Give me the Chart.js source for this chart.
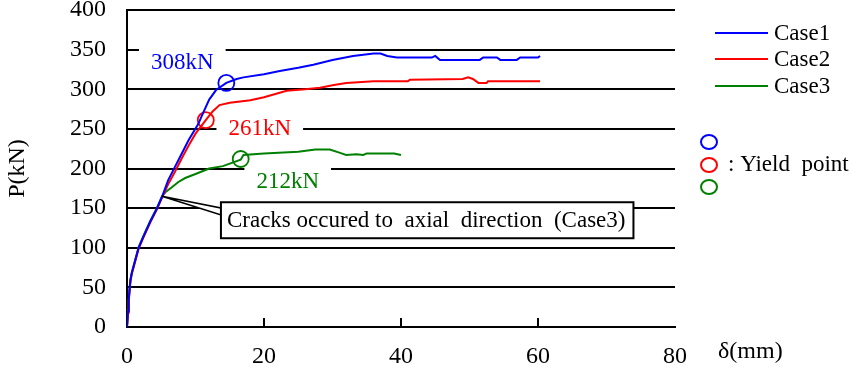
<!DOCTYPE html>
<html>
<head>
<meta charset="utf-8">
<script src="https://cdn.jsdelivr.net/npm/chart.js@4.4.1/dist/chart.umd.min.js"></script>
<style>
  html, body { margin: 0; padding: 0; background: #fff; }
  #wrap { width: 863px; height: 369px; }
</style>
</head>
<body>
<div id="wrap"><canvas id="canvas" width="863" height="369"></canvas></div>
<script>
// load-displacement curves
var case1D = [0, 0.15, 0.25, 0.4, 0.5, 0.7, 1.2, 1.7, 2.4, 3.4, 4.4, 5.1, 6, 7, 8, 9, 10.4, 11, 12, 13, 14.5, 16, 17, 20, 22.3, 25, 27.2, 30, 33, 36, 37, 38, 39.4, 44.5, 45, 45.7, 51.5, 52, 54, 54.5, 56.9, 57.4, 60, 60.3];
var case1P = [0, 20, 34, 50, 59, 68, 84, 100, 114, 133, 150, 164, 185, 202, 219, 236, 256, 268, 287, 299, 308, 313, 315, 319, 323, 327, 331, 337, 342, 345, 345, 342, 340, 340, 342, 337, 337, 340, 340, 337, 337, 340, 340, 342];

var case2D = [0, 0.15, 0.25, 0.4, 0.5, 0.7, 1.2, 1.7, 2.4, 3.4, 4.4, 5.1, 6, 7, 8, 9, 10, 11.5, 12.5, 13.5, 15, 18, 20, 23.3, 26, 28.2, 30, 32, 36, 41, 41.3, 49, 49.8, 50.5, 51.3, 52.5, 52.7, 60.3];
var case2P = [0, 18, 32, 48, 57, 67, 83, 99, 113, 132, 149, 163, 180, 196, 213, 229, 244, 261, 272, 280, 283, 286, 290, 298, 300, 302, 305, 308, 310, 310, 312, 313, 315, 313, 308, 308, 310, 310];

var case3D = [0, 0.15, 0.25, 0.4, 0.5, 0.7, 1.2, 1.7, 2.4, 3.4, 4.4, 5.1, 5.6, 6.5, 7.5, 8.5, 10, 12, 14, 16.6, 17, 20, 25, 27.5, 29.6, 31, 32, 33.5, 34.5, 35, 39, 40];
var case3P = [0, 21, 35, 51, 60, 69, 85, 101, 115, 134, 151, 165, 170, 176, 183, 188, 193, 200, 203, 211, 217, 219, 221, 224, 224, 220, 217, 218, 217, 219, 219, 217];

// yield points (δ, P)
var yieldD = [14.5, 11.5, 16.6];
var yieldP = [308, 261, 212];
var yieldText = ['308kN', '261kN', '212kN'];

var caseNames = ['Case1', 'Case2', 'Case3'];
var caseColors = ['#0000ff', '#ff0000', '#008000'];

var xTicks = [0, 20, 40, 60, 80];

var FONT = 'Liberation Serif';

function pts(d, p) {
    var out = [];
    for (var i = 0; i < d.length; i++) out.push({x: d[i], y: p[i]});
    return out;
}

var datasets = [
    {label: caseNames[0], data: pts(case1D, case1P), borderColor: caseColors[0]},
    {label: caseNames[1], data: pts(case2D, case2P), borderColor: caseColors[1]},
    {label: caseNames[2], data: pts(case3D, case3P), borderColor: caseColors[2]}
];
datasets.forEach(function (ds) {
    ds.showLine = true;
    ds.fill = false;
    ds.borderWidth = 2;
    ds.pointRadius = 0;
    ds.tension = 0;
});
for (var i = 0; i < 3; i++) {
    datasets.push({
        label: 'yield' + (i + 1),
        data: [{x: yieldD[i], y: yieldP[i]}],
        showLine: false,
        pointStyle: 'circle',
        pointRadius: 8,
        pointBorderWidth: 1.8,
        borderColor: caseColors[i],
        backgroundColor: 'rgba(0,0,0,0)'
    });
}

// label offsets relative to each yield point (pixels)
var labelOffsets = [[-44, -20], [54, 9], [47, 23]];

var overlay = {
    id: 'overlay',
    beforeDatasetsDraw: function (chart) {
        var ctx = chart.ctx, xs = chart.scales.x, ys = chart.scales.y;
        var area = chart.chartArea;
        ctx.save();
        // inward tick marks on the x axis
        ctx.strokeStyle = '#000';
        ctx.lineWidth = 2;
        xTicks.forEach(function (v) {
            if (v === 0 || v === 80) return;
            var px = Math.round(xs.getPixelForValue(v));
            ctx.beginPath();
            ctx.moveTo(px, area.bottom);
            ctx.lineTo(px, area.bottom - 9);
            ctx.stroke();
        });
        // yield value labels on white boxes
        ctx.font = '23px "' + FONT + '"';
        ctx.textAlign = 'center';
        ctx.textBaseline = 'middle';
        for (var i = 0; i < 3; i++) {
            var cx = xs.getPixelForValue(yieldD[i]) + labelOffsets[i][0];
            var cy = ys.getPixelForValue(yieldP[i]) + labelOffsets[i][1];
            var w = ctx.measureText(yieldText[i]).width + 24;
            ctx.fillStyle = '#fff';
            ctx.fillRect(cx - w / 2, cy - 18, w, 36);
            ctx.fillStyle = caseColors[i];
            ctx.fillText(yieldText[i], cx, cy);
        }
        ctx.restore();
    },
    afterDatasetsDraw: function (chart) {
        var ctx = chart.ctx, xs = chart.scales.x, ys = chart.scales.y;
        var tx = xs.getPixelForValue(5.1), ty = ys.getPixelForValue(165);
        var text = 'Cracks occured to  axial  direction  (Case3)';
        ctx.save();
        ctx.font = '23px "' + FONT + '"';
        var bw = ctx.measureText(text).width + 14;
        var bx = tx + 59, by = ty + 6, bh = 36;
        // pointer wedge
        ctx.fillStyle = '#fff';
        ctx.strokeStyle = '#000';
        ctx.lineWidth = 1.5;
        ctx.beginPath();
        ctx.moveTo(tx, ty);
        ctx.lineTo(bx + 1, by + 6);
        ctx.lineTo(bx + 1, by + 13);
        ctx.closePath();
        ctx.fill();
        ctx.stroke();
        // box
        ctx.lineWidth = 2;
        ctx.fillRect(bx, by, bw, bh);
        ctx.strokeRect(bx, by, bw, bh);
        ctx.fillStyle = '#000';
        ctx.textAlign = 'left';
        ctx.textBaseline = 'middle';
        ctx.fillText(text, bx + 6, by + bh / 2 + 1);
        ctx.restore();
    },
    afterDraw: function (chart) {
        var ctx = chart.ctx;
        ctx.save();
        ctx.font = '23px "' + FONT + '"';
        ctx.textBaseline = 'middle';
        ctx.textAlign = 'left';
        // legend
        var ly = [33, 59, 86];
        for (var i = 0; i < 3; i++) {
            ctx.strokeStyle = caseColors[i];
            ctx.lineWidth = 2;
            ctx.beginPath();
            ctx.moveTo(715, ly[i]);
            ctx.lineTo(768, ly[i]);
            ctx.stroke();
            ctx.fillStyle = '#000';
            ctx.fillText(caseNames[i], 774, ly[i] + 1);
        }
        var cy = [142, 165, 187];
        for (var j = 0; j < 3; j++) {
            ctx.strokeStyle = caseColors[j];
            ctx.lineWidth = 2;
            ctx.beginPath();
            ctx.ellipse(709, cy[j], 8, 7, 0, 0, Math.PI * 2);
            ctx.stroke();
        }
        ctx.fillStyle = '#000';
        ctx.fillText(': Yield  point', 728, 165);
        // x axis title
        ctx.font = '24px "' + FONT + '"';
        ctx.fillText('\u03b4(mm)', 718, 352);
        ctx.restore();
    }
};

var config = {
    type: 'scatter',
    data: {datasets: datasets},
    options: {
        responsive: false,
        animation: false,
        devicePixelRatio: 1,
        layout: {padding: {left: 0, right: 188, top: 10, bottom: 0}},
        plugins: {
            legend: {display: false},
            tooltip: {enabled: false}
        },
        scales: {
            x: {
                type: 'linear',
                min: 0,
                max: 80,
                afterBuildTicks: function (s) {
                    s.ticks = xTicks.map(function (v) { return {value: v}; });
                },
                afterFit: function (s) { s.height = 42; },
                grid: {display: false, drawTicks: false},
                border: {display: true, color: '#000', width: 2},
                ticks: {
                    color: '#000',
                    font: {family: FONT, size: 24},
                    padding: 15,
                    maxRotation: 0
                }
            },
            y: {
                min: 0,
                max: 400,
                afterFit: function (s) { s.width = 127; },
                grid: {color: '#000', lineWidth: 2, drawTicks: true, tickLength: 21, tickColor: 'rgba(0,0,0,0)'},
                border: {display: true, color: '#000', width: 2},
                ticks: {
                    stepSize: 50,
                    color: '#000',
                    font: {family: FONT, size: 24, lineHeight: 0.8},
                    padding: 0
                },
                title: {
                    display: true,
                    text: 'P(kN)',
                    color: '#000',
                    font: {family: FONT, size: 24},
                    padding: {top: 3, bottom: 0}
                }
            }
        }
    },
    plugins: [overlay]
};

window.addEventListener('load', function () {
    var ctx = document.getElementById('canvas').getContext('2d');
    window.LineChart = new Chart(ctx, config);
});
</script>
</body>
</html>
